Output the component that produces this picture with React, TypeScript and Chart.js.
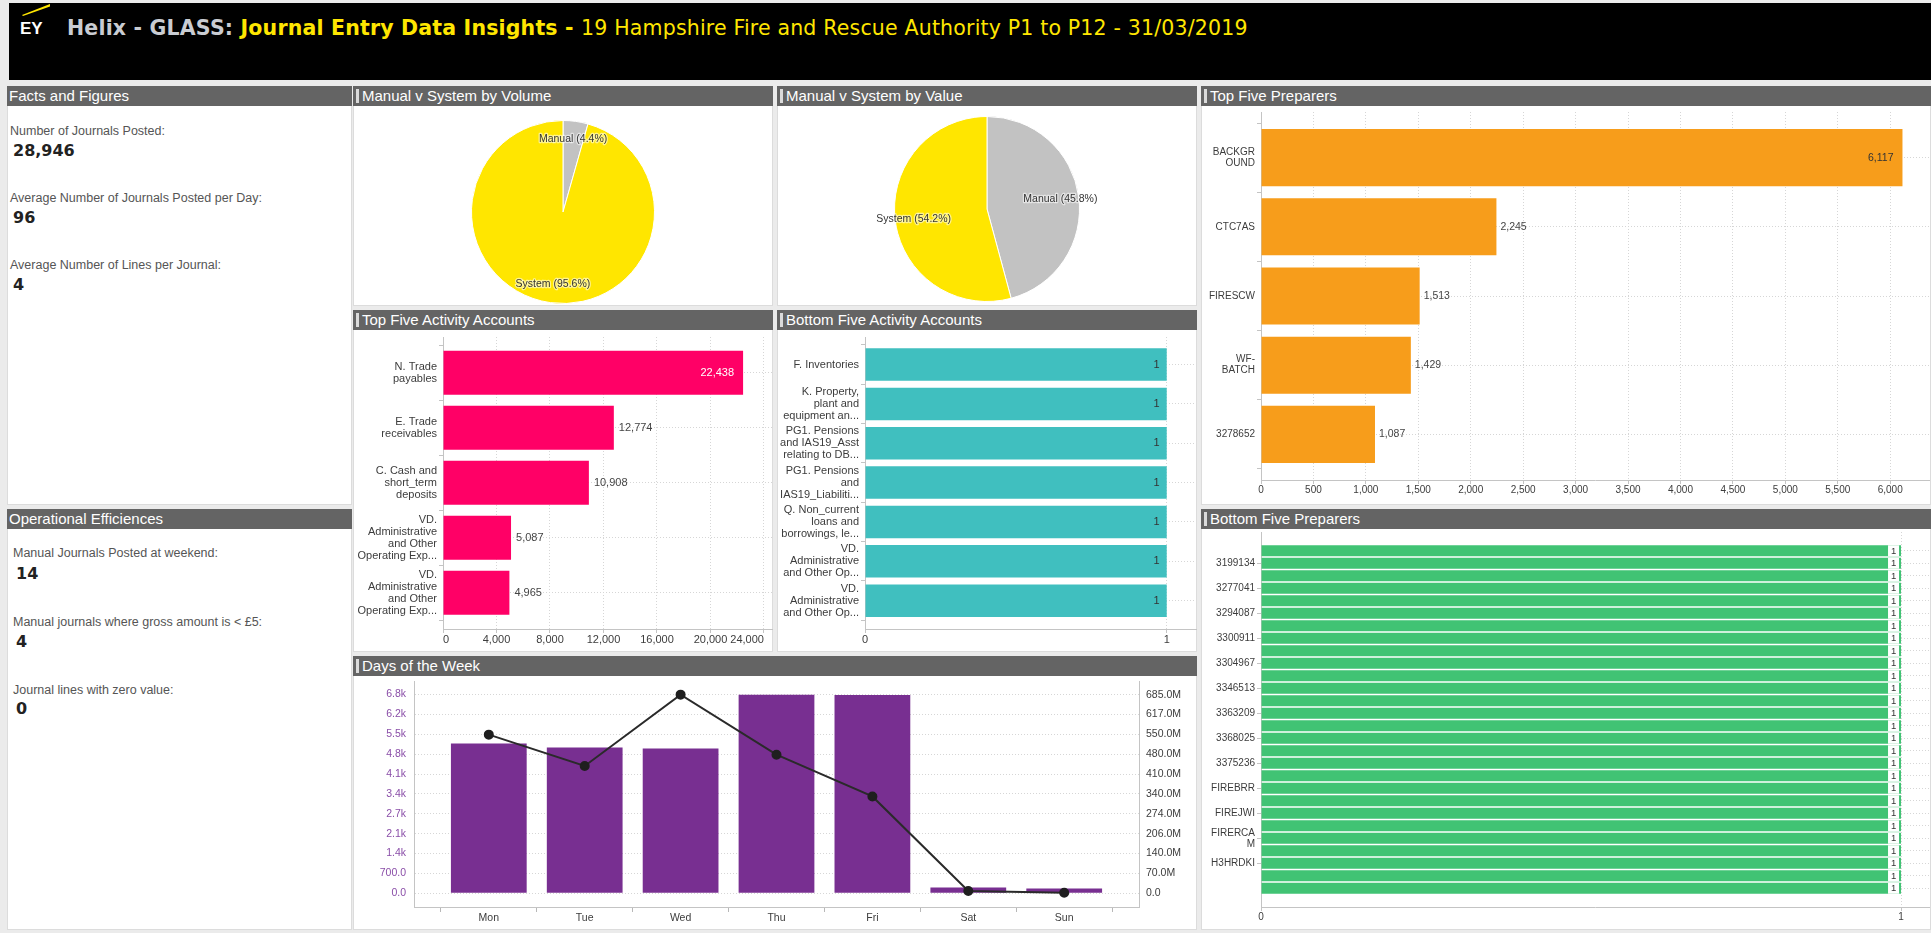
import React, { useEffect, useRef } from 'react';
import { Chart, registerables } from 'chart.js';

Chart.register(...registerables);

const FONT = "'Liberation Sans', Arial, Helvetica, sans-serif";
const TITLE_FONT = "'DejaVu Sans', Verdana, sans-serif";
Chart.defaults.font.family = FONT;
Chart.defaults.color = '#3c3c3c';

// ---------------- data ----------------
const titlePrefix = 'Helix - GLASS: ';
const titleMain = 'Journal Entry Data Insights - ';
const titleEntity = '19 Hampshire Fire and Rescue Authority P1 to P12 - 31/03/2019';

const factLabels = ['Number of Journals Posted:', 'Average Number of Journals Posted per Day:', 'Average Number of Lines per Journal:'];
const factValues = ['28,946', '96', '4'];
const efficiencyLabels = ['Manual Journals Posted at weekend:', 'Manual journals where gross amount is < £5:', 'Journal lines with zero value:'];
const efficiencyValues = ['14', '4', '0'];

const volumeLabels = ['Manual', 'System'];
const volumeShares = [4.4, 95.6];
const valueLabels = ['Manual', 'System'];
const valueShares = [45.8, 54.2];

const topAccountLabels = [
  'N. Trade\npayables',
  'E. Trade\nreceivables',
  'C. Cash and\nshort_term\ndeposits',
  'VD.\nAdministrative\nand Other\nOperating Exp...',
  'VD.\nAdministrative\nand Other\nOperating Exp...',
];
const topAccountValues = [22438, 12774, 10908, 5087, 4965];

const bottomAccountLabels = [
  'F. Inventories',
  'K. Property,\nplant and\nequipment an...',
  'PG1. Pensions\nand IAS19_Asst\nrelating to DB...',
  'PG1. Pensions\nand\nIAS19_Liabiliti...',
  'Q. Non_current\nloans and\nborrowings, le...',
  'VD.\nAdministrative\nand Other Op...',
  'VD.\nAdministrative\nand Other Op...',
];
const bottomAccountValues = [1, 1, 1, 1, 1, 1, 1];

const topPreparerLabels = ['BACKGR\nOUND', 'CTC7AS', 'FIRESCW', 'WF-\nBATCH', '3278652'];
const topPreparerValues = [6117, 2245, 1513, 1429, 1087];

// only every other preparer name is printed on the axis of the original
const bottomPreparerLabels = [
  '', '3199134', '', '3277041', '', '3294087', '', '3300911', '', '3304967',
  '', '3346513', '', '3363209', '', '3368025', '', '3375236', '', 'FIREBRR',
  '', 'FIREJWI', '', 'FIRERCA\nM', '', 'H3HRDKI', '', '',
];
const bottomPreparerValues = [
  1, 1, 1, 1, 1, 1, 1, 1, 1, 1, 1, 1, 1, 1, 1, 1, 1, 1, 1, 1, 1, 1, 1, 1, 1, 1, 1, 1,
];

const dayLabels = ['Mon', 'Tue', 'Wed', 'Thu', 'Fri', 'Sat', 'Sun'];
const dayJournalCounts = [5172, 5034, 4999, 6860, 6855, 197, 162];
const dayValuesMillions = [547, 439, 685, 478, 334, 8, 2];
const countTickStep = 686.5;
const countTickLabels = ['0.0', '700.0', '1.4k', '2.1k', '2.7k', '3.4k', '4.1k', '4.8k', '5.5k', '6.2k', '6.8k'];
const valueTickStep = 68.5;
const valueTickLabels = ['0.0', '70.0M', '140.0M', '206.0M', '274.0M', '340.0M', '410.0M', '480.0M', '550.0M', '617.0M', '685.0M'];

// ---------------- styles ----------------
const CLEAR = 'rgba(0,0,0,0)';
const AXIS = '#c4c4c4';
const GRID = '#d6d6d6';
const TEXT = '#3c3c3c';
const YELLOW = '#FFE600';
const GREY_SLICE = '#C2C2C2';
const PINK = '#FF0066';
const TEAL = '#40BFBF';
const ORANGE = '#F79D1B';
const GREEN = '#41C374';
const PURPLE = '#782F91';
const PURPLE_TEXT = '#8A4EA8';

const fmt = (n: number) => String(n).replace(/\B(?=(\d{3})+(?!\d))/g, ',');

const tickRange = (start: number, step: number, end: number) => {
  const out: { value: number }[] = [];
  for (let k = 0; k < 1000; k++) {
    const v = Math.round((start + k * step) * 1000) / 1000;
    if (v > end + 1e-9) break;
    out.push({ value: v });
  }
  return out;
};

// fixes the thickness of an axis and stops its labels from pushing the plot area around
const fixAxis = (size: number) => (sc: any) => {
  if (sc.isHorizontal()) sc.height = size;
  else sc.width = size;
  sc.paddingTop = 0;
  sc.paddingBottom = 0;
  sc.paddingLeft = 0;
  sc.paddingRight = 0;
};

type BarLabelCfg = {
  size: number;
  insideIf: (v: number, max: number) => boolean;
  insideColor: string;
  outsideColor: string;
  inset: number;
  offset: number;
  insideBg?: string;
  bgWidth?: number;
  bgInset?: number;
};

function barLabelPlugin(cfg: BarLabelCfg) {
  return {
    id: 'barLabels',
    afterDatasetsDraw(chart: any) {
      const ctx = chart.ctx;
      const meta = chart.getDatasetMeta(0);
      const vals: number[] = chart.data.datasets[0].data.map((d: any) => d.x);
      const max = Math.max(...vals);
      meta.data.forEach((el: any, i: number) => {
        const v = vals[i];
        const text = fmt(v);
        const { x, y, height } = el.getProps(['x', 'y', 'height'], true);
        ctx.save();
        ctx.font = `${cfg.size}px ${FONT}`;
        ctx.textBaseline = 'middle';
        if (cfg.insideIf(v, max)) {
          if (cfg.insideBg) {
            const w = cfg.bgWidth || 10;
            const right = x - (cfg.bgInset || 0);
            ctx.fillStyle = cfg.insideBg;
            ctx.fillRect(right - w, y - height / 2, w, height);
            ctx.textAlign = 'center';
            ctx.fillStyle = cfg.insideColor;
            ctx.fillText(text, right - w / 2, y + 0.5);
          } else {
            ctx.textAlign = 'right';
            ctx.fillStyle = cfg.insideColor;
            ctx.fillText(text, x - cfg.inset, y);
          }
        } else {
          ctx.textAlign = 'left';
          ctx.fillStyle = cfg.outsideColor;
          ctx.fillText(text, x + cfg.offset, y);
        }
        ctx.restore();
      });
    },
  };
}

function pieLabelPlugin(names: string[], fraction: number) {
  return {
    id: 'pieLabels',
    afterDatasetsDraw(chart: any) {
      const ctx = chart.ctx;
      const meta = chart.getDatasetMeta(0);
      const data: number[] = chart.data.datasets[0].data;
      const total = data.reduce((a, b) => a + b, 0);
      meta.data.forEach((arc: any, i: number) => {
        const { x, y, startAngle, endAngle, outerRadius } = arc.getProps(
          ['x', 'y', 'startAngle', 'endAngle', 'outerRadius'],
          true
        );
        const mid = (startAngle + endAngle) / 2;
        const r = outerRadius * fraction;
        const tx = x + Math.cos(mid) * r;
        const ty = y + Math.sin(mid) * r;
        const text = `${names[i]} (${((data[i] / total) * 100).toFixed(1)}%)`;
        ctx.save();
        ctx.font = `10.5px ${FONT}`;
        ctx.textAlign = 'center';
        ctx.textBaseline = 'middle';
        ctx.lineJoin = 'round';
        ctx.strokeStyle = 'rgba(255,255,255,0.55)';
        ctx.lineWidth = 2.5;
        ctx.strokeText(text, tx, ty);
        ctx.fillStyle = '#333';
        ctx.fillText(text, tx, ty);
        ctx.restore();
      });
    },
  };
}

function pieConfig(names: string[], shares: number[], padTop: number, padBottom: number) {
  return {
    type: 'pie',
    data: {
      labels: names,
      datasets: [
        {
          data: shares,
          backgroundColor: [GREY_SLICE, YELLOW],
          borderColor: '#ffffff',
          borderWidth: 1,
        },
      ],
    },
    options: {
      animation: false,
      responsive: true,
      maintainAspectRatio: false,
      layout: { padding: { top: padTop, bottom: padBottom, left: 0, right: 0 } },
      plugins: { legend: { display: false }, tooltip: { enabled: false } },
    },
    plugins: [pieLabelPlugin(names, 0.8)],
  };
}

type HBarSpec = {
  labels: string[];
  values: number[];
  color: string;
  indexMin: number;
  indexMax: number;
  halfTicks: boolean;
  barPct: number;
  valueMax: number;
  valueStep: number;
  yWidth: number;
  xHeight: number;
  padTop: number;
  padRight: number;
  fontSize: number;
  xFontSize: number;
  xAlign: string;
  barLabel: BarLabelCfg;
};

function hBarConfig(s: HBarSpec) {
  const n = s.values.length;
  const isLabelTick = (v: number) => Number.isInteger(v) && v >= 0 && v < n && !!s.labels[v];
  const idxStep = s.halfTicks ? 0.5 : 1;
  const idxStart = Math.ceil(s.indexMin / idxStep) * idxStep;
  return {
    type: 'bar',
    data: {
      datasets: [
        {
          data: s.values.map((v, i) => ({ x: v, y: i })),
          backgroundColor: s.color,
          borderWidth: 0,
          barPercentage: s.barPct,
          categoryPercentage: 1,
        },
      ],
    },
    options: {
      animation: false,
      responsive: true,
      maintainAspectRatio: false,
      indexAxis: 'y',
      layout: { autoPadding: false, padding: { top: s.padTop, right: s.padRight, bottom: 0, left: 0 } },
      plugins: { legend: { display: false }, tooltip: { enabled: false } },
      scales: {
        y: {
          type: 'linear',
          reverse: true,
          offset: false,
          min: s.indexMin,
          max: s.indexMax,
          grid: {
            offset: false,
            tickLength: 4,
            color: (c: any) => {
              const v = c.tick ? c.tick.value : NaN;
              return Number.isInteger(v) && v >= 0 && v < n ? GRID : CLEAR;
            },
            tickColor: (c: any) => {
              const v = c.tick ? c.tick.value : NaN;
              if (s.halfTicks) return Number.isInteger(v) ? CLEAR : AXIS;
              return isLabelTick(v) ? AXIS : CLEAR;
            },
          },
          border: { color: AXIS, dash: [1, 2] },
          afterBuildTicks: (sc: any) => {
            sc.ticks = tickRange(idxStart, idxStep, s.indexMax);
          },
          ticks: {
            autoSkip: false,
            padding: 2,
            color: TEXT,
            font: { size: s.fontSize, lineHeight: 1.1 },
            callback: (v: any) => (isLabelTick(v) ? s.labels[v].split('\n') : ''),
          },
          afterFit: fixAxis(s.yWidth),
        },
        x: {
          type: 'linear',
          min: 0,
          max: s.valueMax,
          grid: { color: GRID, tickLength: 4, tickColor: AXIS },
          border: { color: AXIS, dash: [1, 2] },
          afterBuildTicks: (sc: any) => {
            sc.ticks = tickRange(0, s.valueStep, s.valueMax);
          },
          ticks: {
            autoSkip: false,
            maxRotation: 0,
            padding: 0,
            align: s.xAlign,
            color: TEXT,
            font: { size: s.xFontSize },
            callback: (v: any) => fmt(v),
          },
          afterFit: fixAxis(s.xHeight),
        },
      },
    },
    plugins: [barLabelPlugin(s.barLabel)],
  };
}

function daysConfig() {
  const isInt = (v: number) => Number.isInteger(v);
  return {
    type: 'bar',
    data: {
      datasets: [
        {
          type: 'line',
          data: dayLabels.map((_, i) => ({ x: i, y: dayValuesMillions[i] })),
          yAxisID: 'y1',
          borderColor: '#2a2a2a',
          borderWidth: 2,
          pointRadius: 4,
          pointBackgroundColor: '#1f1f1f',
          pointBorderColor: '#1f1f1f',
          tension: 0,
          order: 0,
        },
        {
          type: 'bar',
          data: dayLabels.map((_, i) => ({ x: i, y: dayJournalCounts[i] })),
          yAxisID: 'y',
          backgroundColor: PURPLE,
          borderWidth: 0,
          barPercentage: 1.58,
          categoryPercentage: 1,
          order: 1,
        },
      ],
    },
    options: {
      animation: false,
      responsive: true,
      maintainAspectRatio: false,
      layout: { autoPadding: false, padding: { top: 5, right: 0, bottom: 0, left: 0 } },
      plugins: { legend: { display: false }, tooltip: { enabled: false } },
      scales: {
        x: {
          type: 'linear',
          offset: false,
          min: -0.78,
          max: 6.78,
          grid: {
            offset: false,
            drawOnChartArea: false,
            tickLength: 5,
            tickColor: (c: any) => (c.tick && isInt(c.tick.value) ? CLEAR : '#b8b8b8'),
          },
          border: { color: AXIS },
          afterBuildTicks: (sc: any) => {
            sc.ticks = tickRange(-0.5, 0.5, dayLabels.length - 0.5);
          },
          ticks: {
            autoSkip: false,
            maxRotation: 0,
            padding: 0,
            color: TEXT,
            font: { size: 10.5 },
            callback: (v: any) => (isInt(v) && dayLabels[v] ? dayLabels[v] : ''),
          },
          afterFit: fixAxis(23),
        },
        y: {
          position: 'left',
          min: -473,
          max: 7335,
          grid: { color: GRID, drawTicks: false },
          border: { color: AXIS, dash: [1, 2] },
          afterBuildTicks: (sc: any) => {
            sc.ticks = countTickLabels.map((_, i) => ({ value: i * countTickStep }));
          },
          ticks: {
            autoSkip: false,
            padding: 8,
            color: PURPLE_TEXT,
            font: { size: 10.5 },
            callback: (v: any) => {
              const i = Math.round(v / countTickStep);
              return v >= 0 && i < countTickLabels.length ? countTickLabels[i] : '';
            },
          },
          afterFit: fixAxis(61),
        },
        y1: {
          position: 'right',
          min: -47.2,
          max: 732,
          grid: { drawOnChartArea: false, drawTicks: false },
          border: { color: AXIS },
          afterBuildTicks: (sc: any) => {
            sc.ticks = valueTickLabels.map((_, i) => ({ value: i * valueTickStep }));
          },
          ticks: {
            autoSkip: false,
            padding: 7,
            color: TEXT,
            font: { size: 10.5 },
            callback: (v: any) => {
              const i = Math.round(v / valueTickStep);
              return v >= 0 && i < valueTickLabels.length ? valueTickLabels[i] : '';
            },
          },
          afterFit: fixAxis(58),
        },
      },
    },
  };
}

// ---------------- components ----------------
function ChartBox({ box, build }: { box: number[]; build: () => any }) {
  const ref = useRef<HTMLCanvasElement | null>(null);
  useEffect(() => {
    const chart = new Chart(ref.current as HTMLCanvasElement, build());
    return () => chart.destroy();
  }, []);
  const [left, top, width, height] = box;
  return (
    <div style={{ position: 'absolute', left, top, width, height }}>
      <canvas ref={ref} />
    </div>
  );
}

function Panel({ x, y, w, h, title, marker }: { x: number; y: number; w: number; h: number; title: string; marker?: boolean }) {
  return (
    <>
      <div
        style={{
          position: 'absolute',
          left: x,
          top: y,
          width: w,
          height: h,
          background: '#fff',
          border: '1px solid #dcdcdc',
          boxSizing: 'border-box',
        }}
      />
      <div
        style={{
          position: 'absolute',
          left: x,
          top: y,
          width: w,
          height: 20,
          background: '#646464',
          color: '#fff',
          font: `15px ${FONT}`,
          lineHeight: '20px',
          whiteSpace: 'nowrap',
          overflow: 'hidden',
        }}
      >
        {marker && (
          <span style={{ position: 'absolute', left: 3, top: 3, width: 3, height: 14, background: '#dadada' }} />
        )}
        <span style={{ position: 'absolute', left: marker ? 9 : 2, top: 0 }}>{title}</span>
      </div>
    </>
  );
}

function Stat({ x, yLabel, yValue, label, value }: { x: number; yLabel: number; yValue: number; label: string; value: string }) {
  return (
    <>
      <div
        style={{
          position: 'absolute',
          left: x,
          top: yLabel - 8,
          height: 16,
          lineHeight: '16px',
          font: `12.5px ${FONT}`,
          color: '#555',
          whiteSpace: 'nowrap',
        }}
      >
        {label}
      </div>
      <div
        style={{
          position: 'absolute',
          left: x + 3,
          top: yValue - 10,
          height: 20,
          lineHeight: '20px',
          font: `bold 16px 'DejaVu Sans', Verdana, sans-serif`,
          color: '#222',
          whiteSpace: 'nowrap',
        }}
      >
        {value}
      </div>
    </>
  );
}

export default function App() {
  return (
    <div
      style={{
        position: 'fixed',
        left: 0,
        top: 0,
        width: 1931,
        height: 933,
        background: '#ebebeb',
        overflow: 'hidden',
        fontFamily: FONT,
      }}
    >
      {/* header */}
      <div style={{ position: 'absolute', left: 9, top: 3, width: 1922, height: 77, background: '#000' }}>
        <svg width="60" height="40" style={{ position: 'absolute', left: 0, top: 0 }}>
          <polygon points="13,12 41,1 41,3.5 14,13" fill={YELLOW} />
          <text x="11" y="31" fill="#fff" fontFamily={FONT} fontWeight="bold" fontSize="17">
            EY
          </text>
        </svg>
        <div
          style={{
            position: 'absolute',
            left: 58,
            top: 13,
            whiteSpace: 'nowrap',
            fontFamily: TITLE_FONT,
            fontSize: 20.5,
            letterSpacing: '0.18px',
            lineHeight: '24px',
          }}
        >
          <span style={{ color: '#c9ccd2', fontWeight: 'bold' }}>{titlePrefix}</span>
          <span style={{ color: YELLOW, fontWeight: 'bold' }}>{titleMain}</span>
          <span style={{ color: YELLOW }}>{titleEntity}</span>
        </div>
      </div>

      {/* panels */}
      <Panel x={7} y={86} w={345} h={419} title="Facts and Figures" />
      <Panel x={7} y={509} w={345} h={421} title="Operational Efficiences" />
      <Panel x={353} y={86} w={420} h={220} title="Manual v System by Volume" marker />
      <Panel x={777} y={86} w={420} h={220} title="Manual v System by Value" marker />
      <Panel x={353} y={310} w={420} h={342} title="Top Five Activity Accounts" marker />
      <Panel x={777} y={310} w={420} h={342} title="Bottom Five Activity Accounts" marker />
      <Panel x={353} y={656} w={844} h={274} title="Days of the Week" marker />
      <Panel x={1201} y={86} w={730} h={419} title="Top Five Preparers" marker />
      <Panel x={1201} y={509} w={730} h={421} title="Bottom Five Preparers" marker />

      {factLabels.map((l, i) => (
        <Stat key={'f' + i} x={10} yLabel={131.5 + i * 67} yValue={150.7 + i * 67} label={l} value={factValues[i]} />
      ))}
      {efficiencyLabels.map((l, i) => (
        <Stat key={'e' + i} x={13} yLabel={554.3 + i * 68.5} yValue={574 + i * 67.7} label={l} value={efficiencyValues[i]} />
      ))}

      <ChartBox box={[353, 106, 420, 200]} build={() => pieConfig(volumeLabels, volumeShares, 14, 2)} />
      <ChartBox box={[777, 106, 420, 200]} build={() => pieConfig(valueLabels, valueShares, 10, 4)} />

      <ChartBox
        box={[353, 330, 420, 322]}
        build={() =>
          hBarConfig({
            labels: topAccountLabels,
            values: topAccountValues,
            color: PINK,
            indexMin: -0.65,
            indexMax: 4.66,
            halfTicks: true,
            barPct: 1.6,
            valueMax: 24600,
            valueStep: 4000,
            yWidth: 90,
            xHeight: 23,
            padTop: 7,
            padRight: 1,
            fontSize: 11,
            xFontSize: 11,
            xAlign: 'inner',
            barLabel: {
              size: 11,
              insideIf: (v, m) => v / m > 0.9,
              insideColor: '#ffffff',
              outsideColor: '#444',
              inset: 9,
              offset: 5,
            },
          })
        }
      />
      <ChartBox
        box={[777, 330, 420, 322]}
        build={() =>
          hBarConfig({
            labels: bottomAccountLabels,
            values: bottomAccountValues,
            color: TEAL,
            indexMin: -0.7,
            indexMax: 6.72,
            halfTicks: true,
            barPct: 1.65,
            valueMax: 1.097,
            valueStep: 1,
            yWidth: 88,
            xHeight: 23,
            padTop: 7,
            padRight: 1,
            fontSize: 11,
            xFontSize: 11,
            xAlign: 'center',
            barLabel: {
              size: 11,
              insideIf: (v, m) => v / m > 0.9,
              insideColor: '#333',
              outsideColor: '#444',
              inset: 7,
              offset: 5,
            },
          })
        }
      />
      <ChartBox box={[353, 676, 844, 254]} build={() => daysConfig()} />
      <ChartBox
        box={[1201, 106, 730, 399]}
        build={() =>
          hBarConfig({
            labels: topPreparerLabels,
            values: topPreparerValues,
            color: ORANGE,
            indexMin: -0.66,
            indexMax: 4.66,
            halfTicks: true,
            barPct: 1.65,
            valueMax: 6370,
            valueStep: 500,
            yWidth: 60,
            xHeight: 25,
            padTop: 6,
            padRight: 2,
            fontSize: 10,
            xFontSize: 10,
            xAlign: 'center',
            barLabel: {
              size: 10.5,
              insideIf: (v, m) => v / m > 0.9,
              insideColor: '#333',
              outsideColor: '#444',
              inset: 9,
              offset: 4,
            },
          })
        }
      />
      <ChartBox
        box={[1201, 527, 730, 403]}
        build={() =>
          hBarConfig({
            labels: bottomPreparerLabels,
            values: bottomPreparerValues,
            color: GREEN,
            indexMin: -1.5,
            indexMax: 28.5,
            halfTicks: false,
            barPct: 0.88,
            valueMax: 1.0437,
            valueStep: 1,
            yWidth: 60,
            xHeight: 23,
            padTop: 5,
            padRight: 2,
            fontSize: 10,
            xFontSize: 10,
            xAlign: 'center',
            barLabel: {
              size: 9.5,
              insideIf: () => true,
              insideColor: '#333',
              outsideColor: '#333',
              inset: 3,
              offset: 3,
              insideBg: '#ffffff',
              bgWidth: 11,
              bgInset: 2,
            },
          })
        }
      />
    </div>
  );
}
